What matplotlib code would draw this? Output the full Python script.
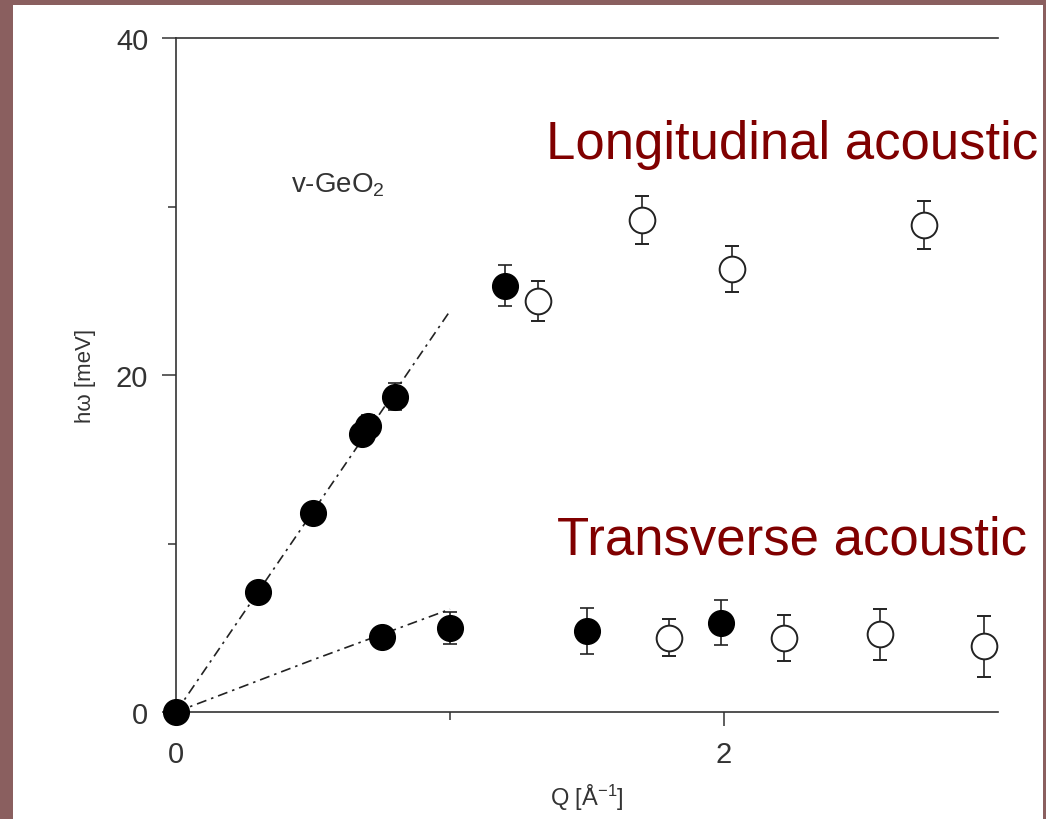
import matplotlib.pyplot as plt
from matplotlib.patches import Rectangle

plt.rcParams['font.family'] = ['Liberation Sans', 'DejaVu Sans']
plt.rcParams['mathtext.fontset'] = 'custom'
plt.rcParams['mathtext.rm'] = 'Liberation Sans'
plt.rcParams['mathtext.default'] = 'regular'

BORDER = "#8a5f5f"
INK = "#222222"
LABEL_RED = "#800000"

# longitudinal acoustic branch
la_filled_q = [0.0, 0.30, 0.50, 0.68, 0.70, 0.80, 1.20]
la_filled_e = [0.0, 7.1, 11.8, 16.5, 17.0, 18.7, 25.3]
la_filled_err = [0.0, 0.0, 0.0, 0.5, 0.6, 0.8, 1.2]

la_open_q = [1.32, 1.70, 2.03, 2.73]
la_open_e = [24.4, 29.2, 26.3, 28.9]
la_open_err = [1.2, 1.4, 1.35, 1.45]

# transverse acoustic branch
ta_filled_q = [0.75, 1.00, 1.50, 1.99]
ta_filled_e = [4.45, 4.97, 4.8, 5.3]
ta_filled_err = [0.5, 0.95, 1.35, 1.35]

ta_open_q = [1.80, 2.22, 2.57, 2.95]
ta_open_e = [4.4, 4.4, 4.6, 3.9]
ta_open_err = [1.1, 1.35, 1.5, 1.8]

# dash-dot guide lines
la_line_q = [0.0, 1.0]
la_line_e = [0.0, 23.8]
ta_line_q = [0.0, 0.5, 0.75, 1.0]
ta_line_e = [0.0, 3.1, 4.6, 6.1]

fig = plt.figure(figsize=(10.46, 8.2), dpi=100)
fig.patch.set_facecolor(BORDER)
fig.add_artist(Rectangle((13 / 1046, 0), 1030 / 1046, 814 / 820,
                         transform=fig.transFigure, facecolor="white",
                         edgecolor="none", zorder=0))

ax = fig.add_axes([176 / 1046, 107 / 820, 822 / 1046, 674 / 820])
ax.set_facecolor("none")

dash = (0, (6, 3, 1.5, 3))
ax.plot(la_line_q, la_line_e, color=INK, lw=1.2, linestyle=dash, zorder=2)
ax.plot(ta_line_q, ta_line_e, color=INK, lw=1.2, linestyle=dash, zorder=2)

common = dict(fmt="o", ms=18.5, ecolor=INK, elinewidth=1.2, capsize=5,
              capthick=1.2, zorder=3, clip_on=False)
ax.errorbar(la_filled_q, la_filled_e, yerr=la_filled_err,
            mfc="black", mec="black", **common)
ax.errorbar(ta_filled_q, ta_filled_e, yerr=ta_filled_err,
            mfc="black", mec="black", **common)
ax.errorbar(la_open_q, la_open_e, yerr=la_open_err,
            mfc="white", mec=INK, mew=1.4, **common)
ax.errorbar(ta_open_q, ta_open_e, yerr=ta_open_err,
            mfc="white", mec=INK, mew=1.4, **common)

ax.set_xlim(0, 3)
ax.set_ylim(0, 40)

for side in ["left", "top", "bottom"]:
    ax.spines[side].set_color("#333333")
    ax.spines[side].set_linewidth(1.2)
ax.spines["right"].set_visible(False)

ax.set_xticks([0, 2])
ax.set_xticks([1], minor=True)
ax.set_yticks([0, 20, 40])
ax.set_yticks([10, 30], minor=True)
ax.tick_params(which="major", direction="out", length=10, width=1.1,
               color="#333333", labelsize=21, labelcolor="#333333", pad=10)
ax.tick_params(which="minor", direction="out", length=6, width=1.1,
               color="#333333")

ax.set_xlabel("Q [Å$^{-1}$]", fontsize=17, color="#333333", labelpad=10)
ax.set_ylabel("hω [meV]", fontsize=16, color="#333333", labelpad=14)

ax.text(0.42, 30.9, "v-GeO$_2$", fontsize=20, color="#333333")
ax.text(1.35, 32.9, "Longitudinal acoustic", fontsize=38, color=LABEL_RED)
ax.text(1.39, 9.4, "Transverse acoustic", fontsize=38, color=LABEL_RED)

fig.savefig("out.png", dpi=100, facecolor=fig.get_facecolor())
